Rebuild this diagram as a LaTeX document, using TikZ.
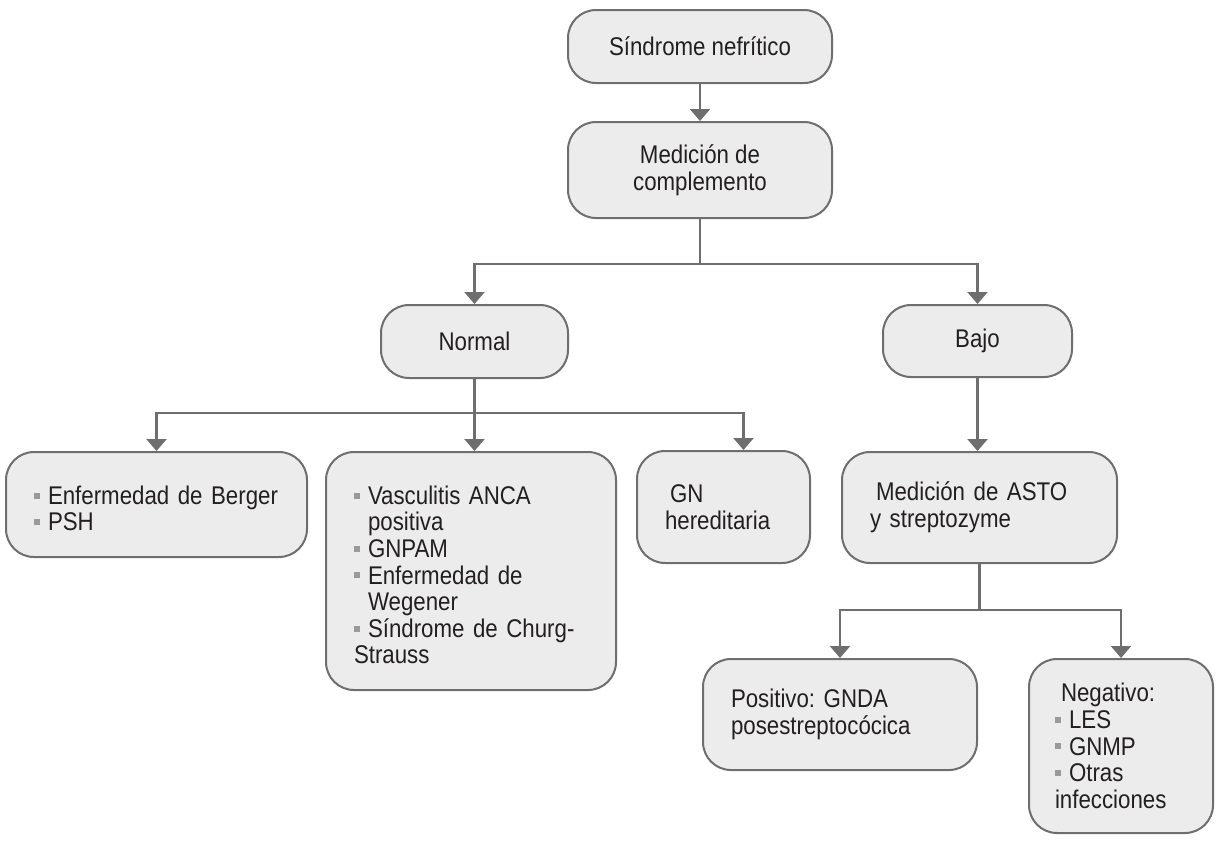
\documentclass[tikz,border=0pt]{standalone}
\usepackage{fontspec}
\setmainfont{Liberation Sans}[FakeStretch=0.87]
\usetikzlibrary{arrows.meta}
\usepackage{xcolor}
\definecolor{borde}{HTML}{6E6E6E}
\definecolor{relleno}{HTML}{EBECEB}
\definecolor{vineta}{HTML}{9A9A9A}
\definecolor{texto}{HTML}{231F20}
\frenchspacing
% viñeta cuadrada gris con sangría colgante
\newcommand{\vin}{\par\hangindent=7pt\hangafter=1\noindent\makebox[7pt][l]{\textcolor{vineta}{\rule[2.9pt]{3pt}{3pt}}}}

\begin{document}
\begin{tikzpicture}[x=0.5pt, y=-0.5pt,
    caja/.style={draw=borde, line width=1pt, fill=relleno, rounded corners=14pt, text=texto,
        font=\fontsize{12.8}{13.3}\selectfont, align=center, inner sep=0pt},
    lista/.style={caja, align=left, inner xsep=14pt},
    flecha/.style={draw=borde, line width=1.2pt, -{Triangle[width=10pt,length=6pt]}}]
    \useasboundingbox (0,0) rectangle (1220,841);

    \node[caja, minimum width=132pt, minimum height=36.5pt] (sindrome) at (700,46.5) {Síndrome nefrítico};
    \node[caja, minimum width=132pt, minimum height=48pt] (medicion) at (700,170) {Medición de\\complemento};
    \node[caja, minimum width=93.5pt, minimum height=36.5pt] (normal) at (474.5,341.5) {Normal};
    \node[caja, minimum width=94.5pt, minimum height=36pt] (bajo) at (977.5,341) {Bajo};

    \node[lista, text width=122.5pt, minimum height=52.5pt] (berger) at (156.5,504.5)
        {\vin Enfermedad de Berger\vin PSH};
    \node[lista, text width=117pt, minimum height=119pt] (vasculitis) at (471,571)
        {\vin Vasculitis ANCA\newline positiva\vin GNPAM\vin Enfermedad de\newline Wegener\vin Síndrome de Churg-\newline Strauss};
    \node[lista, text width=58.5pt, minimum height=56pt] (gn) at (723.5,507)
        {\noindent\hspace*{2.5pt}GN\\hereditaria};
    \node[lista, text width=109.5pt, minimum height=55.5pt] (asto) at (979.5,507.5)
        {\noindent\hspace*{3pt}Medición de ASTO\\y streptozyme};
    \node[lista, text width=109pt, minimum height=55.5pt] (positivo) at (840,714.5)
        {Positivo: GNDA\\posestreptocócica};
    \node[lista, inner xsep=13pt, text width=66pt, minimum height=87pt] (negativo) at (1121,746)
        {\noindent\hspace*{3pt}Negativo:\vin LES\vin GNMP\vin Otras\newline infecciones};

    \draw[flecha] (sindrome) -- (medicion);
    \draw[flecha] (medicion.south) -- ++(0,45) -| (normal.north);
    \draw[flecha] (medicion.south) -- ++(0,45) -| (bajo.north);
    \draw[flecha] (normal.south) -- ++(0,34) -| (berger.north);
    \draw[flecha] (normal.south) -- (normal.south |- vasculitis.north);
    \draw[flecha] (normal.south) -- ++(0,34) -| ([xshift=10pt]gn.north);
    \draw[flecha] (bajo.south) -- (bajo.south |- asto.north);
    \draw[flecha] (asto.south) -- ++(0,46) -| (positivo.north);
    \draw[flecha] (asto.south) -- ++(0,46) -| (negativo.north);
\end{tikzpicture}
\end{document}
